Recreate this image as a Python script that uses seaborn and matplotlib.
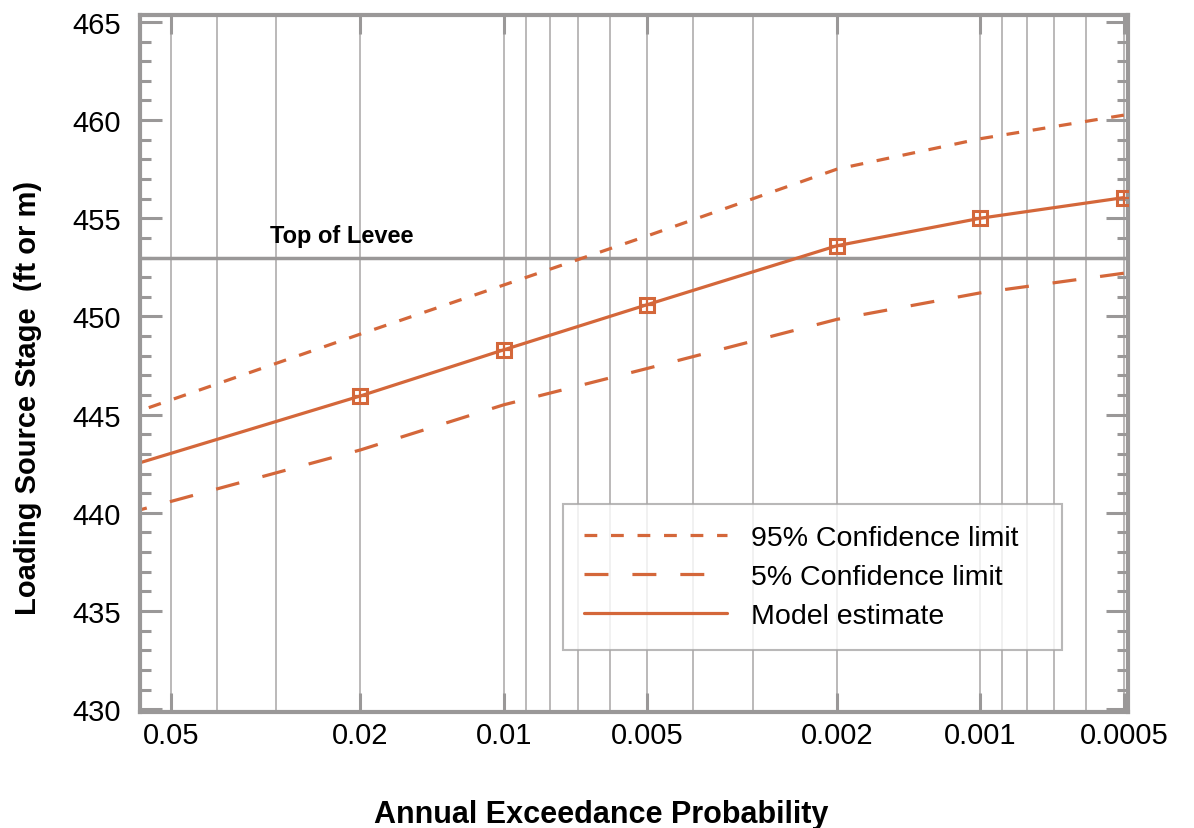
import matplotlib
matplotlib.use("Agg")
import matplotlib.pyplot as plt
from matplotlib.ticker import MultipleLocator, LogLocator, NullFormatter
import seaborn as sns

sns.set_theme(style="white")
plt.rcParams['font.family'] = ['Liberation Sans', 'DejaVu Sans']
plt.rcParams['text.color'] = 'black'
plt.rcParams['axes.labelcolor'] = 'black'

# annual exceedance probability (first point = left edge of chart, no marker)
aep = [0.058, 0.02, 0.01, 0.005, 0.002, 0.001, 0.0005]
upper95 = [445.2, 449.1, 451.6, 454.1, 457.5, 459.05, 460.25]
lower5 = [440.15, 443.2, 445.5, 447.35, 449.85, 451.2, 452.2]
model = [442.55, 445.95, 448.3, 450.6, 453.6, 455.0, 456.05]
levee = 453.0

xticks = [0.05, 0.02, 0.01, 0.005, 0.002, 0.001, 0.0005]
xticklabels = ["0.05", "0.02", "0.01", "0.005", "0.002", "0.001", "0.0005"]

orange = "#D4673A"
gray = "#9A9898"

fig, ax = plt.subplots(figsize=(11.94, 8.29), dpi=100)
fig.subplots_adjust(left=0.1173, right=0.9447, bottom=0.1403, top=0.9807)
ax.set_xscale('log')

sns.lineplot(x=aep, y=upper95, ax=ax, color=orange, lw=2.3,
             linestyle=(0, (4, 4.3)), label="95% Confidence limit")
sns.lineplot(x=aep, y=lower5, ax=ax, color=orange, lw=2.3,
             linestyle=(0, (7.5, 7.5)), label="5% Confidence limit")
sns.lineplot(x=aep, y=model, ax=ax, color=orange, lw=2.3, label="Model estimate")

# square markers with a cross on the model estimate
ax.plot(aep[1:], model[1:], ls='none', marker='s', ms=10, mfc='none',
        mec=orange, mew=2.2, zorder=5)
ax.plot(aep[1:], model[1:], ls='none', marker='+', ms=10,
        mec=orange, mew=1.6, zorder=5)

ax.axhline(levee, color=gray, lw=2.5, zorder=1.5)
ax.text(0.031, 453.55, "Top of Levee", fontsize=17, fontweight='bold',
        ha='left', va='bottom', color='black')

ax.set_xlim(0.058, 0.00049)
ax.set_ylim(429.87, 465.35)

ax.set_xticks(xticks)
ax.set_xticklabels(xticklabels)
ax.xaxis.set_minor_locator(LogLocator(base=10, subs=range(2, 10)))
ax.xaxis.set_minor_formatter(NullFormatter())
ax.yaxis.set_major_locator(MultipleLocator(5))
ax.yaxis.set_minor_locator(MultipleLocator(1))

ax.tick_params(axis='x', which='major', direction='in', length=14, width=2.2,
               color=gray, top=True, bottom=True, labelsize=21, pad=7,
               labelcolor='black')
ax.tick_params(axis='x', which='minor', length=0, top=False, bottom=False)
ax.tick_params(axis='y', which='major', direction='in', length=16, width=2.2,
               color=gray, left=True, right=True, labelsize=21, pad=14,
               labelcolor='black')
ax.tick_params(axis='y', which='minor', direction='in', length=8, width=2.2,
               color=gray, left=True, right=True)

ax.grid(False)
ax.grid(True, axis='x', which='both', color='#A8A6A6', lw=1.1)
ax.set_axisbelow(True)

for s in ax.spines.values():
    s.set_color(gray)
    s.set_linewidth(3)

ax.set_xlabel("Annual Exceedance Probability", fontsize=22, fontweight='bold')
ax.set_ylabel("Loading Source Stage  (ft or m)", fontsize=21, fontweight='bold')
ax.xaxis.set_label_coords(0.467, -0.125)
ax.yaxis.set_label_coords(-0.099, 0.452)

leg = ax.legend(loc='lower left', bbox_to_anchor=(0.428, 0.0886, 0.505, 0.2),
                mode='expand', borderaxespad=0, frameon=True, fancybox=False,
                edgecolor='#A8A6A6', fontsize=20.5, handlelength=5.0,
                handletextpad=0.85, labelspacing=0.45, borderpad=0.75)
leg.get_frame().set_linewidth(1.5)

plt.savefig("out.png", dpi=100)
